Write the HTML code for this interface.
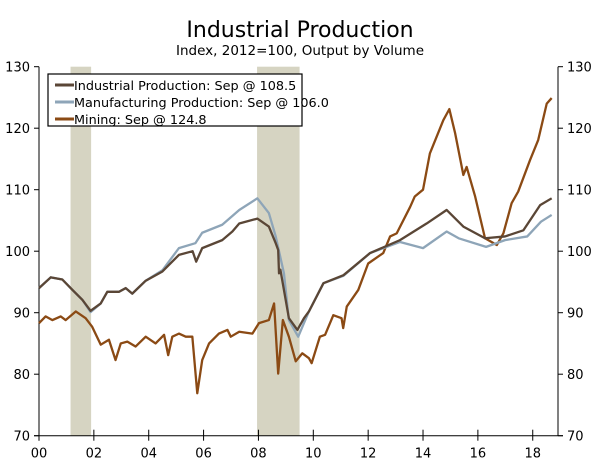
<!DOCTYPE html>
<html><head><meta charset="utf-8"><style>
body{margin:0;background:#fff;width:600px;height:467px;overflow:hidden;font-family:"DejaVu Sans","Liberation Sans",sans-serif}
</style></head><body>
<svg id="chart" width="600" height="467">
<text x="300" y="37" text-anchor="middle" font-size="22" fill="#000">Industrial Production</text>
<text x="300" y="55" text-anchor="middle" font-size="13.5" fill="#000">Index, 2012=100, Output by Volume</text>
<g id="rec"></g>
<g id="axes"></g>
<g id="series"></g>
<g>
<rect x="48" y="74" width="254" height="52" fill="#fff" stroke="#000" stroke-width="1.2"/>
<line x1="55" y1="85" x2="74" y2="85" stroke="#5a4636" stroke-width="3"/>
<text x="74" y="90" font-size="12.8">Industrial Production: Sep @ 108.5</text>
<line x1="55" y1="102" x2="74" y2="102" stroke="#8ea5b8" stroke-width="3"/>
<text x="74" y="107" font-size="12.8">Manufacturing Production: Sep @ 106.0</text>
<line x1="55" y1="119" x2="74" y2="119" stroke="#8b4a14" stroke-width="3"/>
<text x="74" y="124" font-size="12.8">Mining: Sep @ 124.8</text>
</g>
</svg>
<script>
const recessions=[[2001.15,2001.9],[2007.95,2009.5]];
const yTicks=[70,80,90,100,110,120,130];
const xTicks=[2000,2002,2004,2006,2008,2010,2012,2014,2016,2018];
const xLabels=["00","02","04","06","08","10","12","14","16","18"];
const indT=[2000,2000.43,2000.85,2001.22,2001.58,2001.88,2002.25,2002.49,2002.92,2003.16,2003.4,2003.89,2004.5,2005.1,2005.6,2005.73,2005.95,2006.68,2007.05,2007.3,2007.96,2008.38,2008.63,2008.72,2008.75,2008.8,2009.11,2009.42,2009.66,2009.84,2010.37,2011.1,2012.07,2013.16,2014.13,2014.86,2015.47,2016.26,2016.99,2017.66,2018.27,2018.69];
const indV=[94,95.75,95.4,93.7,92.1,90.3,91.5,93.4,93.4,94,93.1,95.2,96.7,99.4,100,98.3,100.5,101.8,103.2,104.5,105.3,104,101.3,100.2,96.4,97,89.1,87.2,89.1,90.2,94.8,96.1,99.7,101.8,104.5,106.7,104,102.1,102.4,103.4,107.5,108.6];
const manT=[2000,2000.43,2000.85,2001.22,2001.58,2001.88,2002.25,2002.49,2002.92,2003.16,2003.4,2003.89,2004.5,2005.1,2005.7,2005.95,2006.68,2007.3,2007.96,2008.38,2008.63,2008.93,2009.11,2009.45,2009.84,2010.37,2011.1,2012.07,2013.16,2014.0,2014.86,2015.3,2016.3,2016.99,2017.8,2018.3,2018.69];
const manV=[94,95.75,95.4,93.7,92.1,90.1,91.5,93.4,93.4,94,93.1,95.2,96.9,100.5,101.3,103,104.3,106.7,108.6,106.2,102.4,96.4,88.8,86.1,90.2,94.8,96,99.7,101.5,100.5,103.2,102.1,100.7,101.8,102.4,104.8,105.9];
const minT=[2000,2000.24,2000.49,2000.79,2000.97,2001.34,2001.7,2001.94,2002.25,2002.55,2002.79,2002.98,2003.22,2003.52,2003.89,2004.25,2004.56,2004.71,2004.86,2005.1,2005.35,2005.59,2005.77,2005.95,2006.2,2006.56,2006.87,2006.99,2007.3,2007.78,2008.02,2008.38,2008.57,2008.72,2008.89,2009.11,2009.36,2009.6,2009.84,2009.94,2010.24,2010.43,2010.73,2011.03,2011.09,2011.22,2011.64,2012.0,2012.55,2012.8,2013.04,2013.53,2013.7,2014.0,2014.25,2014.74,2014.96,2015.17,2015.47,2015.59,2015.9,2016.26,2016.69,2016.93,2017.23,2017.47,2017.9,2018.2,2018.51,2018.69];
const minV=[88.3,89.4,88.8,89.4,88.8,90.2,89.1,87.7,84.8,85.6,82.3,85,85.3,84.5,86.1,85,86.4,83.1,86.1,86.6,86.1,86.1,76.9,82.3,85,86.6,87.2,86.1,86.9,86.6,88.3,88.8,91.5,80.1,88.8,86.1,82.1,83.4,82.6,81.8,86.1,86.4,89.6,89.1,87.5,91,93.7,98,99.7,102.4,102.9,107.2,108.9,110,115.9,121.3,123.1,119.2,112.4,113.7,108.9,102.1,101,102.9,107.8,109.7,114.8,118.1,124,124.9];
const x=v=>39+27.43*(v-2000);
const y=v=>435.7-6.15*(v-70);
const NS="http://www.w3.org/2000/svg";
function mk(tag,attrs,parent){const e=document.createElementNS(NS,tag);for(const k in attrs)e.setAttribute(k,attrs[k]);parent.appendChild(e);return e;}
const rec=document.getElementById('rec'),ax=document.getElementById('axes'),se=document.getElementById('series');
recessions.forEach(r=>{const e=mk('rect',{x:x(r[0]),y:y(130),width:x(r[1])-x(r[0]),height:y(70)-y(130),fill:'#d6d4c2'},rec);

});
const L=x(2000),R=558;
mk('line',{x1:L,y1:y(130),x2:L,y2:y(70),stroke:'#000'},ax);
mk('line',{x1:R,y1:y(130),x2:R,y2:y(70),stroke:'#000'},ax);
mk('line',{x1:L-5,y1:y(70),x2:R+5,y2:y(70),stroke:'#000'},ax);
yTicks.forEach(t=>{
mk('line',{x1:L-5,y1:y(t),x2:L,y2:y(t),stroke:'#000'},ax);
mk('line',{x1:R,y1:y(t),x2:R+5,y2:y(t),stroke:'#000'},ax);
const a=mk('text',{x:L-9,y:y(t)+5,'text-anchor':'end','font-size':13},ax);a.textContent=t;


const b=mk('text',{x:R+9,y:y(t)+5,'font-size':13},ax);b.textContent=t;

});
xTicks.forEach((t,i)=>{
mk('line',{x1:x(t),y1:y(70)-6,x2:x(t),y2:y(70)+5,stroke:'#000'},ax);
const a=mk('text',{x:x(t),y:y(70)+22,'text-anchor':'middle','font-size':13},ax);a.textContent=xLabels[i];

});
function line(T,V,c,n){const p=mk('polyline',{points:T.map((t,i)=>x(t)+','+y(V[i])).join(' '),fill:'none',stroke:c,'stroke-width':2.3,'stroke-linejoin':'round'},se);

}
line(minT,minV,'#8b4a14','mining-line');
line(manT,manV,'#8ea5b8','manufacturing-line');
line(indT,indV,'#5a4636','industrial-line');
</script>
</body></html>
